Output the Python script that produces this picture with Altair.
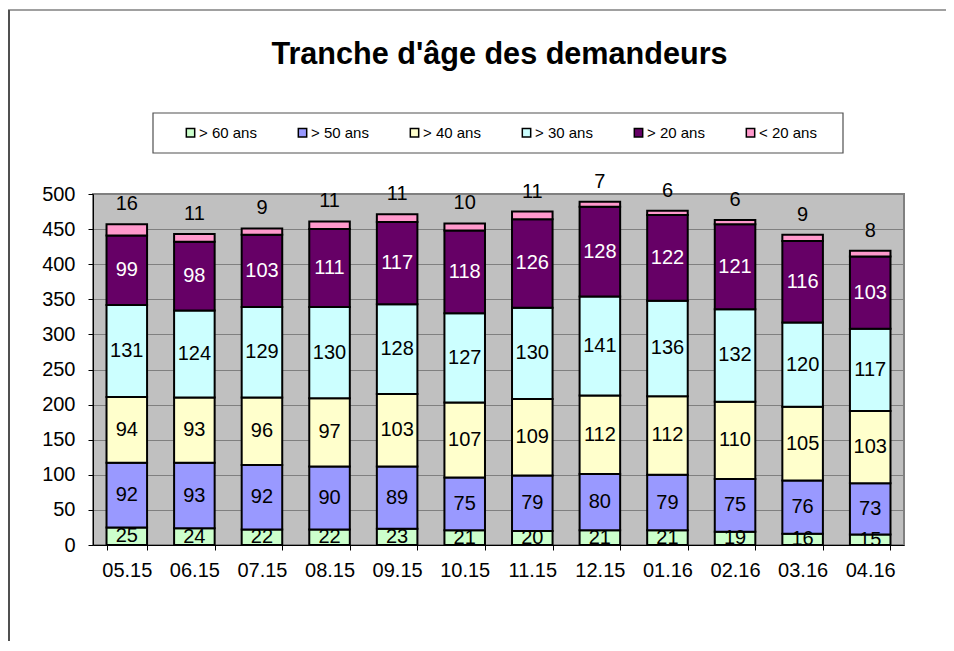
import altair as alt
import pandas as pd

months = ["05.15", "06.15", "07.15", "08.15", "09.15", "10.15",
          "11.15", "12.15", "01.16", "02.16", "03.16", "04.16"]
groups = ["> 60 ans", "> 50 ans", "> 40 ans", "> 30 ans", "> 20 ans", "< 20 ans"]
colors = ["#CCFFCC", "#9999FF", "#FFFFCC", "#CCFFFF", "#660066", "#FF99CC"]

v_60 = [25, 24, 22, 22, 23, 21, 20, 21, 21, 19, 16, 15]
v_50 = [92, 93, 92, 90, 89, 75, 79, 80, 79, 75, 76, 73]
v_40 = [94, 93, 96, 97, 103, 107, 109, 112, 112, 110, 105, 103]
v_30 = [131, 124, 129, 130, 128, 127, 130, 141, 136, 132, 120, 117]
v_20 = [99, 98, 103, 111, 117, 118, 126, 128, 122, 121, 116, 103]
v_lt20 = [16, 11, 9, 11, 11, 10, 11, 7, 6, 6, 9, 8]
y_ticks = [0, 50, 100, 150, 200, 250, 300, 350, 400, 450, 500]

title_text = "Tranche d'âge des demandeurs"

series = [v_60, v_50, v_40, v_30, v_20, v_lt20]
rows = []
for gi, (g, vals) in enumerate(zip(groups, series)):
    for m, v in zip(months, vals):
        rows.append({"month": m, "group": g, "value": v, "order": gi,
                     "tcolor": "white" if g == "> 20 ans" else "black"})
df = pd.DataFrame(rows)

W, H = 811, 351
FONT = "Liberation Sans"

base = alt.Chart(df).transform_stack(
    stack="value", as_=["y0", "y1"], groupby=["month"],
    sort=[alt.SortField("order", order="ascending")]
).transform_calculate(mid="(datum.y0 + datum.y1) / 2")

xaxis = alt.Axis(labelAngle=0, labelFontSize=20, labelColor="black", labelFont=FONT,
                 tickBand="extent", tickColor="black", domainColor="black",
                 domainWidth=1, labelPadding=10, tickSize=5, title=None)
xscale = alt.Scale(paddingInner=0.4, paddingOuter=0.2)
yaxis = alt.Axis(values=y_ticks, labelFontSize=20, labelFont=FONT,
                 labelColor="black", grid=True, gridColor="#808080",
                 gridWidth=1.2, domainColor="black", tickColor="black",
                 tickSize=5, labelPadding=13, title=None)
yscale = alt.Scale(domain=[0, 500], nice=False)


def X():
    return alt.X("month:N", sort=months, title=None, scale=xscale, axis=xaxis)


bars = base.mark_bar(stroke="black", strokeWidth=2).encode(
    x=X(),
    y=alt.Y("y0:Q", title=None, scale=yscale, axis=yaxis),
    y2="y1:Q",
    color=alt.Color("group:N", sort=groups,
                    scale=alt.Scale(domain=groups, range=colors),
                    legend=alt.Legend(title=None, orient="none", direction="horizontal",
                                      columns=6, legendX=90, legendY=-69,
                                      symbolType="square", symbolSize=70,
                                      symbolStrokeColor="black", symbolStrokeWidth=1.5,
                                      labelFontSize=15, labelFont=FONT, labelColor="black",
                                      columnPadding=38, labelOffset=1,
                                      padding=0, symbolOpacity=1)),
    order=alt.Order("order:Q"),
)

labels_in = base.transform_filter("datum.group != '< 20 ans'").mark_text(
    fontSize=20, font=FONT, baseline="middle"
).encode(
    x=X(),
    y=alt.Y("mid:Q", title=None, scale=yscale, axis=yaxis),
    text="value:Q",
    color=alt.Color("tcolor:N", scale=None),
)

labels_top = base.transform_filter("datum.group == '< 20 ans'").mark_text(
    fontSize=20, font=FONT, baseline="middle", dy=-20, color="black"
).encode(
    x=X(),
    y=alt.Y("y1:Q", title=None, scale=yscale, axis=yaxis),
    text="value:Q",
)

title = alt.Chart(pd.DataFrame({"t": [title_text]})).mark_text(
    fontSize=30.6, fontWeight="bold", font=FONT, color="black", baseline="middle"
).encode(text="t:N", x=alt.value(W / 2 + 1), y=alt.value(-139))

one = pd.DataFrame({"a": [0]})
legend_box = alt.Chart(one).mark_rect(fill="white", stroke="#505050", strokeWidth=1.2).encode(
    x=alt.value(60), x2=alt.value(750), y=alt.value(-81), y2=alt.value(-41))
frame = alt.Chart(one).mark_rule(color="#A0A0A0", strokeWidth=2).encode(
    x=alt.value(-85), x2=alt.value(W + 42), y=alt.value(-184))
frame_l = alt.Chart(one).mark_rule(color="#505050", strokeWidth=2).encode(
    x=alt.value(-84), y=alt.value(-184), y2=alt.value(H + 98))

chart = alt.layer(frame, frame_l, legend_box, bars, labels_in, labels_top, title).properties(
    width=W, height=H,
    autosize=alt.AutoSizeParams(type="none"),
    padding={"left": 85, "top": 186, "right": 42, "bottom": 96},
    background="white",
).configure_view(
    fill="#C0C0C0", stroke="#808080", strokeWidth=2
)

chart.save("out.html", embed_options={"renderer": "svg", "actions": False})
